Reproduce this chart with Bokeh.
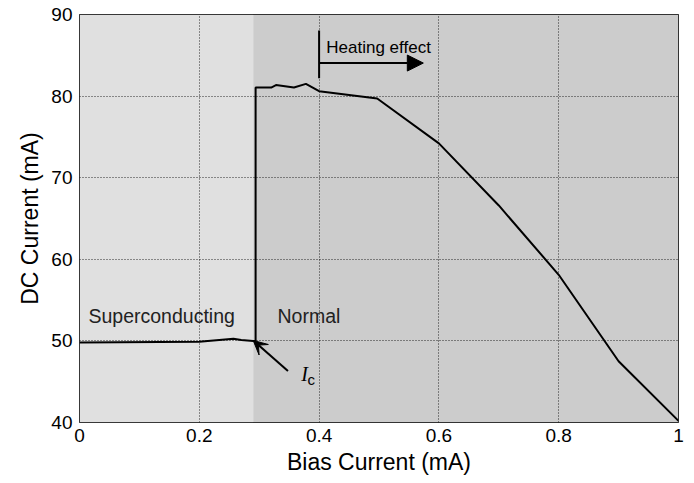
from bokeh.plotting import figure
from bokeh.models import Arrow, NormalHead, VeeHead, Range1d, Label, FixedTicker
from bokeh.embed import file_html
from bokeh.resources import INLINE

# data
bias = [0.0, 0.2, 0.257, 0.27, 0.29, 0.294, 0.294, 0.32, 0.328, 0.34, 0.358, 0.378, 0.4, 0.497, 0.6, 0.7, 0.8, 0.9, 1.0]
dc = [49.8, 49.9, 50.25, 50.1, 50.0, 50.0, 81.05, 81.05, 81.35, 81.25, 81.05, 81.5, 80.6, 79.7, 74.2, 66.6, 58.1, 47.5, 40.2]
x_ticks = [0, 0.2, 0.4, 0.6, 0.8, 1]
y_ticks = [40, 50, 60, 70, 80, 90]
region_left = [0.0, 0.29]
region_right = [0.29, 1.0]
region_colors = ["#e0e0e0", "#cccccc"]

FONT = "Liberation Sans"

p = figure(width=686, height=477, output_backend="svg", toolbar_location=None,
           x_range=Range1d(0, 1), y_range=Range1d(40, 90),
           min_border_left=79, min_border_right=8, min_border_top=14, min_border_bottom=54)
p.background_fill_color = "white"
p.border_fill_color = "white"
p.outline_line_color = "black"
p.outline_line_width = 1

p.quad(left=region_left, right=region_right, bottom=40, top=90, fill_color=region_colors,
       line_color=None, level="image")

p.xaxis.ticker = FixedTicker(ticks=x_ticks)
p.yaxis.ticker = FixedTicker(ticks=y_ticks)
p.xaxis.major_label_overrides = {0: "0", 1: "1"}
for ax in (p.xaxis, p.yaxis):
    ax.major_tick_in = 0
    ax.major_tick_out = 0
    ax.minor_tick_line_color = None
    ax.axis_line_color = None
    ax.major_label_text_font = FONT
    ax.major_label_text_font_size = "19px"
    ax.major_label_text_color = "black"
    ax.axis_label_text_font = FONT
    ax.axis_label_text_font_size = "23px"
    ax.axis_label_text_font_style = "normal"
    ax.axis_label_text_color = "black"
p.xaxis.axis_label = "Bias Current (mA)"
p.yaxis.axis_label = "DC Current (mA)"
p.xaxis.major_label_standoff = 6
p.yaxis.major_label_standoff = 7
p.xaxis.axis_label_standoff = 4
p.yaxis.axis_label_standoff = 5

p.grid.grid_line_color = "black"
p.grid.grid_line_dash = "1 2"
p.grid.grid_line_width = 1
p.grid.grid_line_alpha = 0.8
p.xgrid.ticker = FixedTicker(ticks=[0.2, 0.4, 0.6, 0.8])
p.ygrid.ticker = FixedTicker(ticks=[50, 60, 70, 80])

p.line(bias, dc, line_color="black", line_width=2)

# Heating effect annotation
p.segment(x0=[0.4], y0=[82.2], x1=[0.4], y1=[88.05], line_color="black", line_width=2)
p.add_layout(Arrow(end=NormalHead(size=16, fill_color="black", line_color="black"),
                   x_start=0.4, y_start=84.05, x_end=0.574, y_end=84.05,
                   line_color="black", line_width=2))
p.add_layout(Label(x=0.412, y=86.0, text="Heating effect", text_font=FONT, text_font_size="17px",
                   text_baseline="middle", text_color="black"))

# Ic arrow
p.add_layout(Arrow(end=VeeHead(size=14, fill_color="black", line_color="black"),
                   x_start=0.348, y_start=46.3, x_end=0.29, y_end=50.05,
                   line_color="black", line_width=2))
p.add_layout(Label(x=0.370, y=46.0, text="I", text_font="Liberation Serif", text_font_style="italic",
                   text_font_size="20px", text_baseline="middle", text_color="black"))
p.add_layout(Label(x=0.3805, y=45.3, text="c", text_font=FONT,
                   text_font_size="15px", text_baseline="middle", text_color="black"))

p.add_layout(Label(x=0.015, y=53.0, text="Superconducting", text_font=FONT, text_font_size="19.5px",
                   text_baseline="middle", text_color="#222222"))
p.add_layout(Label(x=0.3306, y=53.0, text="Normal", text_font=FONT, text_font_size="19.5px",
                   text_baseline="middle", text_color="#222222"))

open("out.html", "w").write(file_html(p, INLINE))
